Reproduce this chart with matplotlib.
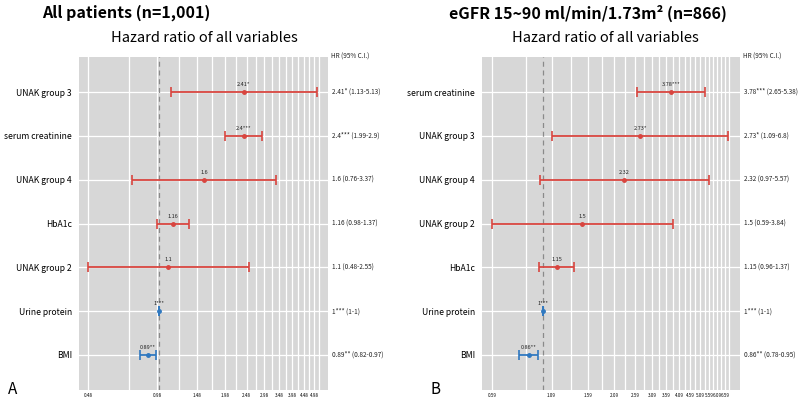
import numpy as np
import matplotlib
matplotlib.use("Agg")
import matplotlib.pyplot as plt

plt.rcParams['font.family'] = ['Noto Sans CJK KR', 'DejaVu Sans']

# panel A: all patients
labels_a = ["UNAK group 3", "serum creatinine", "UNAK group 4", "HbA1c",
            "UNAK group 2", "Urine protein", "BMI"]
hr_a = [2.41, 2.4, 1.6, 1.16, 1.1, 1.0, 0.89]
lo_a = [1.13, 1.99, 0.76, 0.98, 0.48, 1.0, 0.82]
hi_a = [5.13, 2.9, 3.37, 1.37, 2.55, 1.0, 0.97]
stars_a = ["*", "***", "", "", "", "***", "**"]
ticks_a = [0.48, 0.98, 1.48, 1.98, 2.48, 2.98, 3.48, 3.98, 4.48, 4.98]

# panel B: eGFR 15~90
labels_b = ["serum creatinine", "UNAK group 3", "UNAK group 4", "UNAK group 2",
            "HbA1c", "Urine protein", "BMI"]
hr_b = [3.78, 2.73, 2.32, 1.5, 1.15, 1.0, 0.86]
lo_b = [2.65, 1.09, 0.97, 0.59, 0.96, 1.0, 0.78]
hi_b = [5.38, 6.8, 5.57, 3.84, 1.37, 1.0, 0.95]
stars_b = ["***", "*", "", "", "", "***", "**"]
ticks_b = [0.59, 1.09, 1.59, 2.09, 2.59, 3.09, 3.59, 4.09, 4.59, 5.09, 5.59, 6.09, 6.59]

RED = "#d8453f"
BLUE = "#2f78c0"
BG = "#d7d7d7"


def forest(ax, labels, hr, lo, hi, stars, ticks, xlim):
    n = len(labels)
    ys = np.arange(n)[::-1]
    ax.set_facecolor(BG)
    ax.set_xscale("log")
    ax.set_xlim(*xlim)
    ax.set_ylim(-0.8, n - 0.2)

    # grid: labelled ticks every 0.5, extra lines in between
    minor = [t + 0.25 for t in ticks]
    ax.set_xticks(ticks)
    ax.set_xticklabels([f"{t:.2f}" for t in ticks], fontsize=3.3)
    ax.set_xticks(minor, minor=True)
    ax.xaxis.set_minor_formatter(plt.NullFormatter())
    ax.set_yticks(ys)
    ax.set_yticklabels(labels, fontsize=6.2)
    ax.tick_params(length=0, which="both")
    ax.tick_params(axis="x", pad=2)
    ax.tick_params(axis="y", pad=5)
    ax.grid(True, which="both", color="white", lw=0.9)
    ax.set_axisbelow(True)
    for s in ax.spines.values():
        s.set_visible(False)

    ax.axvline(1.0, color="#8a8a8a", lw=0.9, ls=(0, (4, 3)), zorder=2)

    for y, h, l, u, st in zip(ys, hr, lo, hi, stars):
        c = RED if h > 1 else BLUE
        ax.errorbar(h, y, xerr=[[h - l], [u - h]], fmt="o", ms=2.5, color=c,
                    ecolor=c, elinewidth=1.3, capsize=3.5, capthick=1.2, zorder=3)
        ax.annotate(f"{h:g}{st}", xy=(h, y), xytext=(0, 3.5),
                    textcoords="offset points", ha="center", va="bottom",
                    fontsize=4.0, color="#222222")
        ax.annotate(f"{h:g}{st} ({l:g}-{u:g})", xy=(1, y),
                    xycoords=ax.get_yaxis_transform(), xytext=(3, 0),
                    textcoords="offset points", ha="left", va="center",
                    fontsize=4.6, color="#222222")
    ax.annotate("HR (95% C.I.)", xy=(1, 1), xycoords="axes fraction",
                xytext=(2, 0), textcoords="offset points", ha="left",
                va="center", fontsize=4.6, color="#222222")


fig = plt.figure(figsize=(8, 4.04), dpi=100)
bottom = 1 - 390 / 404
height = 333 / 404
axA = fig.add_axes([79 / 800, bottom, 249 / 800, height])
axB = fig.add_axes([482 / 800, bottom, 258 / 800, height])

forest(axA, labels_a, hr_a, lo_a, hi_a, stars_a, ticks_a, (0.437, 5.75))
forest(axB, labels_b, hr_b, lo_b, hi_b, stars_b, ticks_b, (0.53, 7.7))

fig.text(42 / 800, 1 - 13 / 404, "All patients (n=1,001)", fontsize=11.5,
         fontweight="bold", va="center", ha="left")
fig.text(204 / 800, 1 - 38 / 404, "Hazard ratio of all variables",
         fontsize=10.5, va="center", ha="center")
fig.text(449 / 800, 1 - 13 / 404, "eGFR 15~90 ml/min/1.73m² (n=866)",
         fontsize=11.5, fontweight="bold", va="center", ha="left")
fig.text(605 / 800, 1 - 38 / 404, "Hazard ratio of all variables",
         fontsize=10.5, va="center", ha="center")
fig.text(8 / 800, 1 - 389 / 404, "A", fontsize=11, va="center", ha="left")
fig.text(430 / 800, 1 - 389 / 404, "B", fontsize=11, va="center", ha="left")

fig.savefig("out.png", dpi=100)
